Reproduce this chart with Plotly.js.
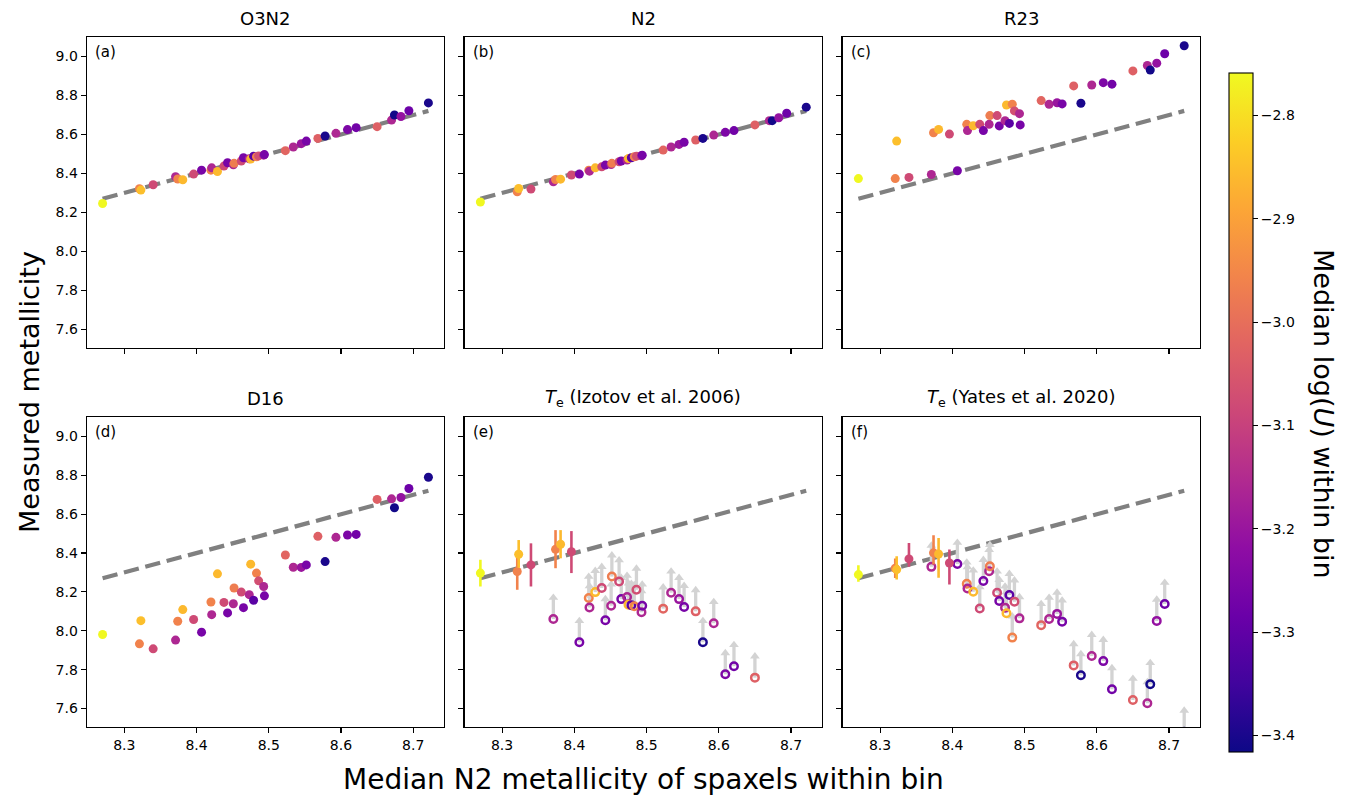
<!DOCTYPE html>
<html>
<head>
<meta charset="utf-8">
<script src="https://cdn.plot.ly/plotly-3.0.1.min.js"></script>
<style>
html,body{margin:0;padding:0;background:#fff;}
#chart{width:1359px;height:796px;}
</style>
</head>
<body>
<div id="chart"></div>
<script>
// ---------------- DATA ----------------
const binX = [8.270, 8.321, 8.323, 8.340, 8.371, 8.374, 8.381, 8.396, 8.407, 8.420,
              8.421, 8.429, 8.438, 8.443, 8.451, 8.452, 8.462, 8.465, 8.473, 8.475,
              8.479, 8.483, 8.486, 8.493, 8.494, 8.523, 8.534, 8.545, 8.552, 8.568,
              8.578, 8.593, 8.609, 8.621, 8.650, 8.670, 8.674, 8.683, 8.694, 8.721];
const logU = [-2.76, -2.96, -2.85, -3.08, -3.16, -2.96, -2.86, -3.08, -3.26, -2.96,
              -3.16, -2.86, -3.08, -3.26, -3.16, -2.97, -3.08, -3.26, -3.16, -2.86,
              -3.31, -2.96, -3.07, -3.16, -3.26, -3.02, -3.16, -3.20, -3.26, -3.03,
              -3.40, -3.16, -3.25, -3.27, -3.03, -3.16, -3.41, -3.21, -3.28, -3.40];
const o3n2 = [8.246, 8.322, 8.315, 8.342, 8.383, 8.372, 8.368, 8.397, 8.417, 8.417,
              8.429, 8.410, 8.438, 8.455, 8.445, 8.452, 8.464, 8.481, 8.475, 8.474,
              8.489, 8.486, 8.490, 8.494, 8.497, 8.517, 8.536, 8.553, 8.566, 8.580,
              8.592, 8.606, 8.625, 8.635, 8.640, 8.674, 8.700, 8.692, 8.722, 8.762];
const n2 = [8.254, 8.306, 8.323, 8.320, 8.357, 8.369, 8.371, 8.392, 8.397, 8.417,
            8.412, 8.429, 8.434, 8.443, 8.446, 8.452, 8.460, 8.464, 8.469, 8.477,
            8.481, 8.486, 8.489, 8.491, 8.494, 8.520, 8.536, 8.549, 8.560, 8.572,
            8.580, 8.597, 8.611, 8.620, 8.649, 8.671, 8.671, 8.686, 8.709, 8.740];
const r23 = [8.374, 8.374, 8.566, 8.380, 8.395, 8.609, 8.626, 8.602, 8.414, 8.652,
             8.620, 8.645, 8.652, 8.620, 8.652, 8.697, 8.697, 8.644, 8.671, 8.751,
             8.657, 8.755, 8.721, 8.707, 8.649, 8.774, 8.755, 8.763, 8.757, 8.849,
             8.760, 8.854, 8.866, 8.858, 8.926, 8.954, 8.931, 8.966, 9.014, 9.055];
const d16 = [7.981, 7.933, 8.052, 7.907, 7.952, 8.049, 8.109, 8.058, 7.993, 8.148,
             8.083, 8.293, 8.146, 8.092, 8.139, 8.220, 8.199, 8.119, 8.186, 8.343,
             8.157, 8.297, 8.257, 8.228, 8.180, 8.390, 8.327, 8.326, 8.339, 8.486,
             8.356, 8.481, 8.493, 8.496, 8.676, 8.679, 8.633, 8.686, 8.732, 8.790];
// Te metallicities: bins with errors are measurements, the rest are lower limits
const teIzotov = [8.297, 8.305, 8.394, 8.339, 8.061, 8.419, 8.445, 8.407, 7.941, 8.169,
                  8.120, 8.199, 8.220, 8.054, 8.129, 8.279, 8.254, 8.163, 8.174, 8.134,
                  8.132, 8.126, 8.211, 8.095, 8.129, 8.114, 8.196, 8.163, 8.122, 8.100,
                  7.941, 8.039, 7.776, 7.818, 7.759, null, null, null, null, null];
const teIzotovErrUp   = [0.068, 0.095, 0.073, 0.111, null, 0.099, 0.073, 0.106];
const teIzotovErrDown = [0.069, 0.094, 0.070, 0.111, null, 0.097, 0.072, 0.110];
const teYates = [8.289, 8.322, 8.315, 8.370, 8.329, 8.401, 8.395, 8.349, 8.344, 8.242,
                 8.218, 8.201, 8.115, 8.256, 8.307, 8.332, 8.196, 8.153, 8.119, 8.090,
                 8.184, 7.965, 8.150, 8.064, null, 8.029, 8.061, 8.087, 8.047, 7.822,
                 7.771, 7.870, 7.844, 7.699, 7.644, 7.627, 7.725, 8.051, 8.138, 7.480];
const teYatesErrUp   = [0.048, 0.050, 0.069, 0.082, null, 0.090, 0.082, 0.069];
const teYatesErrDown = [0.037, 0.050, 0.051, 0.040, null, 0.060, 0.122, 0.111];
const lowerLimitArrow = 0.13;

const panelTitles = ['O3N2', 'N2', 'R23', 'D16',
                     '<i>T</i><sub>e</sub> (Izotov et al. 2006)',
                     '<i>T</i><sub>e</sub> (Yates et al. 2020)'];
const panelLabels = ['(a)', '(b)', '(c)', '(d)', '(e)', '(f)'];
const xTicks = [8.3, 8.4, 8.5, 8.6, 8.7];
const yTicks = [7.6, 7.8, 8.0, 8.2, 8.4, 8.6, 8.8, 9.0];
const cbTicks = [-2.8, -2.9, -3.0, -3.1, -3.2, -3.3, -3.4];
const cMin = -3.416, cMax = -2.759;

// ---------------- STYLE / LAYOUT ----------------
const plasmaStops = ['#0d0887','#41049d','#6a00a8','#8f0da4','#b12a90','#cc4778',
                     '#e16462','#f2844b','#fca636','#fcce25','#f0f921'];
const plasma = plasmaStops.map((c, i) => [i / (plasmaStops.length - 1), c]);
function hexToRgb(h){ return [1,3,5].map(k => parseInt(h.substr(k,2),16)); }
function plasmaAt(v){
  let t = (v - cMin) / (cMax - cMin); t = Math.max(0, Math.min(1, t));
  const n = plasmaStops.length - 1, f = t * n, i = Math.min(Math.floor(f), n - 1), u = f - i;
  const a = hexToRgb(plasmaStops[i]), b = hexToRgb(plasmaStops[i + 1]);
  return 'rgb(' + a.map((x, k) => Math.round(x + (b[k] - x) * u)).join(',') + ')';
}
const fmt = v => v.toFixed(1).replace('-', '\u2212');

const W = 1359, H = 796;
const colL = [86.7, 464.5, 842.5], colW = 357.6;
const rowT = [37, 417], rowH = [311, 310];
const xRange = [8.248, 8.743], yRange = [7.505, 9.1];
const pxPerY = rowH[0] / (yRange[1] - yRange[0]);

const panelData = [o3n2, n2, r23, d16, teIzotov, teYates];
const panelErrUp = [null, null, null, null, teIzotovErrUp, teYatesErrUp];
const panelErrDown = [null, null, null, null, teIzotovErrDown, teYatesErrDown];

const layout = {
  width: W, height: H,
  margin: {l: 0, r: 0, t: 0, b: 0},
  paper_bgcolor: 'white', plot_bgcolor: 'white',
  font: {family: 'DejaVu Sans', color: 'black', size: 14},
  showlegend: false,
  coloraxis: {
    colorscale: plasma, cmin: cMin, cmax: cMax,
    colorbar: {
      thickness: 24, thicknessmode: 'pixels',
      len: 679 / H, lenmode: 'fraction',
      x: 1229 / W, xanchor: 'left', xpad: 0,
      y: 1 - 412.5 / H, yanchor: 'middle', ypad: 0,
      outlinewidth: 1.1, outlinecolor: 'black',
      ticks: 'outside', ticklen: 5, tickwidth: 1.1, tickcolor: 'black',
      tickvals: cbTicks, ticktext: cbTicks.map(fmt),
      tickfont: {size: 14, color: 'black', family: 'DejaVu Sans'}
    }
  },
  annotations: []
};

const traces = [];
const xLo = Math.min(...binX), xHi = Math.max(...binX);

for (let p = 0; p < 6; p++) {
  const row = p < 3 ? 0 : 1, col = p % 3;
  const n = p + 1;
  const xa = n === 1 ? 'x' : 'x' + n, ya = n === 1 ? 'y' : 'y' + n;
  const xKey = n === 1 ? 'xaxis' : 'xaxis' + n, yKey = n === 1 ? 'yaxis' : 'yaxis' + n;
  const common = {
    showline: true, mirror: true, linecolor: 'black', linewidth: 1.1,
    ticks: 'outside', ticklen: 5, tickwidth: 1.1, tickcolor: 'black',
    showgrid: false, zeroline: false, fixedrange: true,
    tickfont: {size: 14, color: 'black', family: 'DejaVu Sans'}
  };
  layout[xKey] = Object.assign({}, common, {
    domain: [colL[col] / W, (colL[col] + colW) / W], anchor: ya,
    range: xRange, tickmode: 'array', tickvals: xTicks, ticktext: xTicks.map(fmt),
    showticklabels: row === 1
  });
  layout[yKey] = Object.assign({}, common, {
    domain: [1 - (rowT[row] + rowH[row]) / H, 1 - rowT[row] / H], anchor: xa,
    range: yRange, tickmode: 'array', tickvals: yTicks, ticktext: yTicks.map(fmt),
    showticklabels: col === 0
  });

  // 1:1 line
  traces.push({
    type: 'scatter', mode: 'lines', xaxis: xa, yaxis: ya, hoverinfo: 'skip',
    x: [xLo, xHi], y: [xLo, xHi],
    line: {color: '#808080', width: 4.2, dash: '15.4px,6.7px'}
  });

  const vals = panelData[p];
  if (p < 4) {
    traces.push({
      type: 'scatter', mode: 'markers', xaxis: xa, yaxis: ya,
      x: binX, y: vals,
      marker: {color: logU, coloraxis: 'coloraxis', size: 9, line: {width: 0}}
    });
  } else {
    const up = panelErrUp[p], dn = panelErrDown[p];
    const limX = [], limY = [], limC = [];
    const shaftX = [], shaftY = [], headX = [], headY = [];
    const headR = 4 / pxPerY;
    for (let i = 0; i < binX.length; i++) {
      if (vals[i] === null || vals[i] === undefined) continue;
      if (up[i] === null || up[i] === undefined) {
        limX.push(binX[i]); limY.push(vals[i]); limC.push(logU[i]);
        const y0 = Math.max(vals[i], yRange[0]);
        shaftX.push(binX[i], binX[i], null);
        shaftY.push(y0, vals[i] + lowerLimitArrow - headR, null);
        headX.push(binX[i]); headY.push(vals[i] + lowerLimitArrow - headR);
      }
    }
    traces.push({
      type: 'scatter', mode: 'lines', xaxis: xa, yaxis: ya, hoverinfo: 'skip',
      x: shaftX, y: shaftY, line: {color: '#d3d3d3', width: 3.3}
    });
    traces.push({
      type: 'scatter', mode: 'markers', xaxis: xa, yaxis: ya, hoverinfo: 'skip',
      x: headX, y: headY,
      marker: {symbol: 'triangle-up', size: 8.5, color: '#d3d3d3', line: {width: 0}}
    });
    traces.push({
      type: 'scatter', mode: 'markers', xaxis: xa, yaxis: ya,
      x: limX, y: limY,
      marker: {symbol: 'circle-open', color: limC, coloraxis: 'coloraxis', size: 7.5, line: {width: 2.5}}
    });
    for (let i = 0; i < binX.length; i++) {
      if (vals[i] === null || up[i] === null || up[i] === undefined) continue;
      traces.push({
        type: 'scatter', mode: 'markers', xaxis: xa, yaxis: ya,
        x: [binX[i]], y: [vals[i]],
        error_y: {type: 'data', symmetric: false, array: [up[i]], arrayminus: [dn[i]],
                  color: plasmaAt(logU[i]), thickness: 2.6, width: 0},
        marker: {color: [logU[i]], coloraxis: 'coloraxis', size: 9, line: {width: 0}}
      });
    }
  }

  // panel label
  layout.annotations.push({
    xref: xa + ' domain', yref: ya + ' domain', x: 6 / colW, y: 1 - 15 / rowH[row],
    xanchor: 'left', yanchor: 'middle', showarrow: false,
    text: panelLabels[p], font: {size: 15, color: 'black'}
  });
  // panel title
  layout.annotations.push({
    xref: xa + ' domain', yref: 'paper', x: 0.5, y: 1 - (row === 0 ? 18 : 398) / H,
    xanchor: 'center', yanchor: 'middle', showarrow: false,
    text: panelTitles[p], font: {size: 18, color: 'black'}
  });
}

layout.annotations.push({
  xref: 'paper', yref: 'paper', x: 29 / W, y: 1 - 392 / H, textangle: -90,
  xanchor: 'center', yanchor: 'middle', showarrow: false,
  text: 'Measured metallicity', font: {size: 27, color: 'black'}
});
layout.annotations.push({
  xref: 'paper', yref: 'paper', x: 643 / W, y: 1 - 779 / H,
  xanchor: 'center', yanchor: 'middle', showarrow: false,
  text: 'Median N2 metallicity of spaxels within bin', font: {size: 28, color: 'black'}
});
layout.annotations.push({
  xref: 'paper', yref: 'paper', x: 1324 / W, y: 1 - 414 / H, textangle: 90,
  xanchor: 'center', yanchor: 'middle', showarrow: false,
  text: 'Median log(<i>U</i>) within bin', font: {size: 27, color: 'black'}
});

Plotly.newPlot('chart', traces, layout, {displayModeBar: false, staticPlot: true});
</script>
</body>
</html>
